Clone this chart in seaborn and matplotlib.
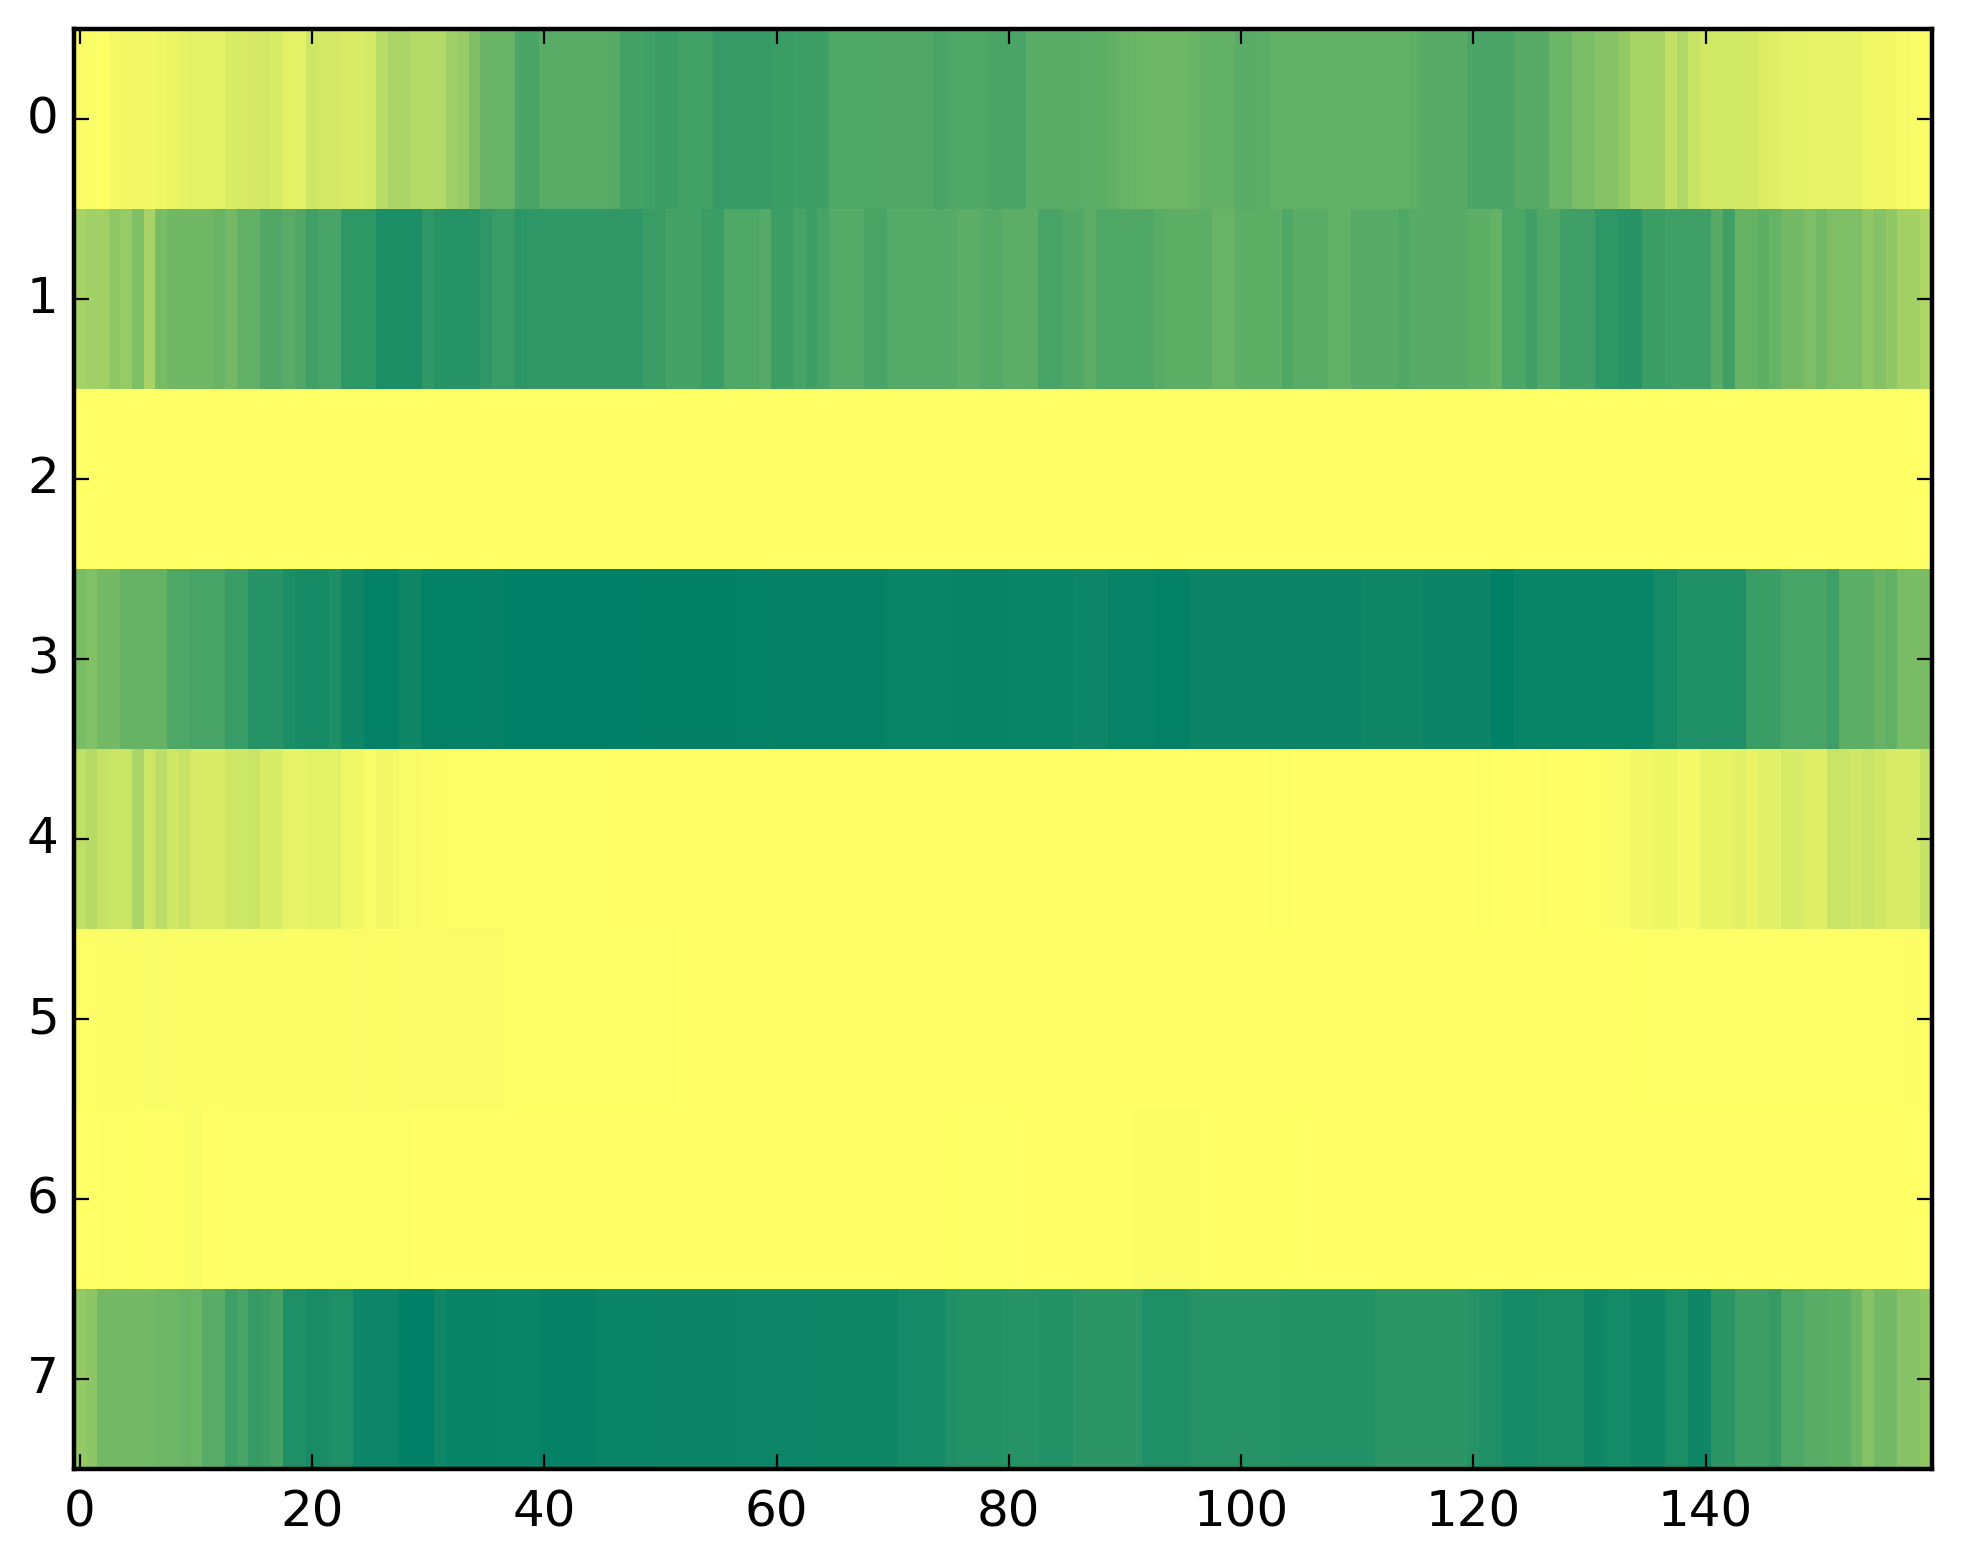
import pandas as pd
import matplotlib
matplotlib.use('Agg')
import matplotlib.pyplot as plt
import seaborn as sns

# values, one list per row, 160 columns each
row_0 = [.02,.02,.00,.04,.05,.05,.05,.07,.08,.10,
         .11,.11,.11,.15,.15,.17,.17,.15,.11,.11,
         .19,.17,.17,.15,.15,.17,.28,.33,.33,.30,
         .30,.30,.38,.40,.50,.59,.59,.59,.71,.71,
         .65,.65,.65,.65,.65,.65,.66,.73,.73,.75,
         .77,.77,.74,.74,.74,.79,.79,.79,.79,.79,
         .77,.77,.76,.76,.76,.69,.69,.69,.69,.69,
         .68,.68,.68,.68,.71,.69,.69,.69,.69,.71,
         .71,.71,.65,.65,.65,.65,.65,.64,.63,.62,
         .59,.58,.57,.57,.57,.57,.59,.61,.61,.62,
         .65,.65,.64,.61,.61,.61,.61,.61,.61,.61,
         .61,.61,.61,.61,.62,.63,.66,.66,.66,.66,
         .71,.71,.71,.71,.66,.66,.66,.58,.58,.52,
         .52,.47,.47,.42,.34,.34,.34,.24,.31,.22,
         .18,.18,.18,.18,.17,.14,.13,.11,.11,.10,
         .10,.10,.10,.09,.06,.05,.05,.04,.03,.02]
row_1 = [.34,.37,.37,.44,.41,.50,.34,.53,.56,.56,
         .56,.56,.59,.55,.62,.62,.68,.68,.65,.68,
         .75,.72,.72,.82,.82,.82,.89,.89,.89,.89,
         .81,.85,.85,.85,.85,.81,.78,.78,.83,.81,
         .81,.81,.81,.81,.81,.81,.81,.81,.81,.77,
         .77,.73,.73,.73,.77,.77,.69,.69,.69,.67,
         .76,.76,.72,.76,.72,.67,.67,.67,.71,.71,
         .67,.67,.67,.67,.67,.67,.64,.64,.67,.67,
         .64,.64,.64,.72,.72,.68,.68,.64,.69,.69,
         .69,.69,.69,.65,.63,.63,.63,.63,.59,.59,
         .63,.63,.63,.63,.69,.65,.65,.65,.61,.61,
         .66,.66,.66,.66,.69,.66,.66,.66,.66,.66,
         .63,.63,.60,.70,.70,.75,.68,.68,.75,.75,
         .75,.82,.82,.84,.84,.77,.77,.75,.75,.75,
         .75,.66,.75,.60,.60,.63,.60,.55,.55,.51,
         .55,.51,.51,.51,.44,.48,.43,.36,.36,.32]
row_2 = [0.0] * 160
row_3 = [.53,.49,.55,.55,.60,.60,.60,.60,.69,.69,
         .72,.72,.72,.78,.78,.85,.85,.85,.89,.91,
         .91,.91,.88,.94,.94,.99,.99,.99,.94,.94,
         .985,.985,.985,.985,.985,.985,.98,1.0,1.0,1.0,
         1.0,1.0,1.0,1.0,1.0,1.0,1.0,1.0,1.0,.995,
         .995,.995,.995,.995,.995,.995,.995,.985,.985,.985,
         .98,.98,.98,.98,.98,.98,.98,.98,.98,.98,
         .965,.965,.965,.965,.965,.965,.97,.97,.97,.97,
         .965,.965,.965,.965,.965,.965,.95,.95,.95,.975,
         .975,.975,.975,.99,.99,.99,.955,.955,.955,.955,
         .955,.955,.955,.955,.955,.955,.955,.955,.955,.955,
         .955,.94,.94,.94,.94,.94,.955,.955,.955,.955,
         .955,.955,1.0,1.0,.965,.965,.965,.965,.965,.965,
         .965,.965,.965,.965,.965,.965,.92,.92,.88,.88,
         .88,.88,.88,.88,.77,.77,.77,.72,.72,.72,
         .72,.76,.64,.64,.64,.59,.62,.53,.53,.53]
row_4 = [.25,.29,.23,.21,.21,.33,.20,.26,.19,.22,
         .16,.16,.16,.19,.19,.21,.15,.15,.10,.10,
         .11,.11,.11,.06,.06,.03,.05,.05,.03,.03,
         .02,.02,.01,.01,.01,.01,.01,.01,.01,.01,
         .01,.01,.01,.01,.01,.01,0,0,0,0,
         0,0,0,0,0,0,0,0,0,0,
         0,0,0,0,0,0,0,0,0,0,
         0,0,0,0,0,0,0,0,0,0,
         0,0,0,0,0,0,0,0,0,0,
         0,0,0,0,0,0,0,0,0,0,
         0,0,0,.01,.01,0,0,0,0,0,
         0,0,0,0,0,0,0,0,0,0,
         0,.01,0,0,0,0,.01,0,0,0,
         .015,.015,.03,.03,.05,.05,.07,.07,.04,.04,
         .09,.09,.09,.12,.09,.12,.12,.16,.16,.13,
         .13,.21,.21,.18,.21,.18,.16,.16,.16,.23]
row_5 = [.01,.01,.02,.02,.02,.02,.03,.03,.02,.02,
         .02,.02,.02,.02,.02,.02,.02,.02,.02,.02,
         .02,.02,.02,.02,.03,.02,.02,.02,.025,.025,
         .025,.025,.025,.025,.025,.025,.025,.01,.01,.01,
         .01,.01,.01,.01,.01,.01,.01,.01,.01,.01,
         .01,.01,0,0,0,0,0,0,0,0,
         0,0,0,0,0,0,0,0,0,0,
         0,0,0,0,0,0,0,0,0,0,
         0,0,0,0,0,0,0,0,0,0,
         0,0,0,0,0,0,0,0,0,0,
         0,0,0,0,0,0,0,0,0,0,
         0,0,0,0,0,0,0,0,0,0,
         0,0,0,0,0,0,0,0,0,0,
         0,0,0,0,0,.005,.005,.005,.005,.005,
         .005,.005,.005,.005,.005,.005,.005,.005,.005,.005,
         .005,.005,.005,.005,.01,.01,.01,.01,.02,.01]
row_6 = [0,0,.01,.01,.01,0,0,0,0,.015,
         .03,0,0,.005,.005,.005,.01,.01,.01,.01,
         .01,.01,.012,.012,.012,.012,.012,.01,.01,0,
         0,0,0,0,0,0,0,0,0,0,
         0,0,0,0,0,0,0,0,0,0,
         0,0,0,0,0,0,0,0,0,0,
         0,0,0,0,0,0,0,0,0,0,
         0,0,0,0,0,0,.005,.005,.005,.005,
         .005,0,0,0,0,0,0,0,0,0,
         0,.02,.02,.02,.02,.02,.02,0,0,0,
         0,0,0,0,0,.005,0,0,0,0,
         0,0,0,0,0,0,0,0,0,0,
         0,0,0,0,0,0,0,0,0,0,
         0,0,0,0,0,0,0,0,0,0,
         0,0,0,0,0,0,0,0,0,0,
         0,0,0,0,0,0,0,0,0,0]
row_7 = [.42,.45,.55,.55,.55,.55,.55,.57,.57,.59,
         .58,.65,.65,.76,.72,.79,.77,.73,.88,.88,
         .90,.90,.88,.88,.95,.95,.95,.95,1.0,1.0,
         1.0,.94,.97,.97,.97,.97,.965,.965,.965,.965,
         .98,.98,.98,.98,.98,.96,.96,.96,.96,.96,
         .955,.955,.955,.955,.955,.955,.955,.95,.95,.95,
         .95,.95,.95,.95,.945,.945,.945,.945,.945,.945,
         .94,.92,.92,.92,.92,.87,.86,.86,.86,.86,
         .85,.85,.85,.86,.86,.86,.83,.83,.83,.83,
         .83,.83,.88,.88,.88,.88,.85,.85,.85,.85,
         .85,.85,.85,.85,.86,.86,.86,.86,.86,.86,
         .86,.86,.83,.83,.83,.83,.83,.83,.83,.83,
         .85,.88,.88,.92,.92,.92,.90,.90,.90,.90,
         .94,.94,.92,.92,.94,.94,.94,.89,.89,.94,
         .94,.83,.83,.76,.76,.76,.79,.69,.69,.65,
         .65,.63,.63,.57,.48,.55,.55,.47,.47,.43]

x_labels = [0, 20, 40, 60, 80, 100, 120, 140]
y_labels = [0, 1, 2, 3, 4, 5, 6, 7]

data = pd.DataFrame([row_0, row_1, row_2, row_3, row_4, row_5, row_6, row_7])

sns.set_style('white')
plt.rcParams['font.family'] = ['DejaVu Sans']

fig = plt.figure(figsize=(9.815, 7.82), dpi=200)
ax = fig.add_axes([74 / 1963, 1 - 1469 / 1564, (1932 - 74) / 1963, (1469 - 29) / 1564])
sns.heatmap(data, cmap='summer_r', vmin=0, vmax=1, cbar=False, ax=ax,
            xticklabels=False, yticklabels=False)

# ticks inside on all four sides, like the old matplotlib look
ax.set_axisbelow(False)
ax.set_xticks([v + 0.5 for v in x_labels])
ax.set_xticklabels(x_labels, rotation=0)
ax.set_yticks([v + 0.5 for v in y_labels])
ax.set_yticklabels(y_labels, rotation=0, va='center')
ax.tick_params(axis='both', which='major', direction='in', length=5.5, width=0.8,
               color='black', labelcolor='black', labelsize=18, pad=7,
               top=True, bottom=True, left=True, right=True)
ax.tick_params(axis='y', pad=5.5)

for spine in ax.spines.values():
    spine.set_visible(True)
    spine.set_color('black')
    spine.set_linewidth(1.6)

fig.savefig('out.png', dpi=200)
